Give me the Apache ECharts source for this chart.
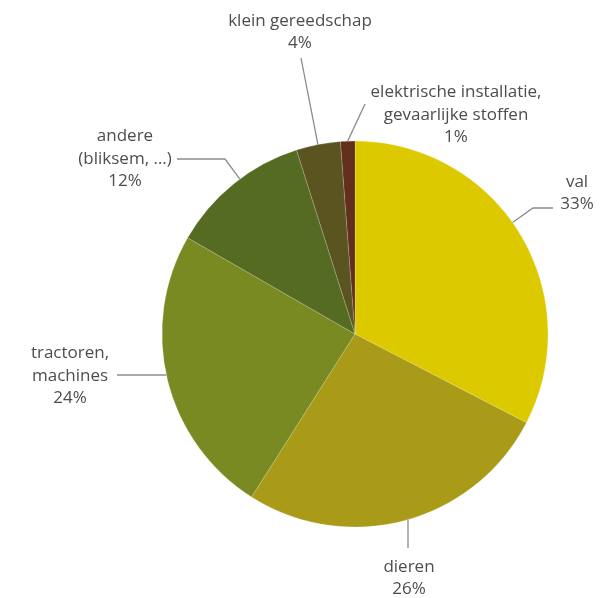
<!DOCTYPE html>
<html>
<head>
<meta charset="utf-8">
<script src="https://cdn.jsdelivr.net/npm/echarts@6/dist/echarts.min.js"></script>
<style>
html,body{margin:0;padding:0;background:#fff;}
#chart{width:601px;height:598px;}
</style>
</head>
<body>
<div id="chart"></div>
<script>
// ---- data ----
const categories = ['val', 'dieren', 'tractoren, machines', 'andere (bliksem, …)', 'klein gereedschap', 'elektrische installatie, gevaarlijke stoffen'];
const labelNames = ['val', 'dieren', 'tractoren,\nmachines', 'andere\n(bliksem, …)', 'klein gereedschap', 'elektrische installatie,\ngevaarlijke stoffen'];
const values = [32.6, 26.4, 24.3, 11.8, 3.7, 1.2];
const colors = ['#DCC900', '#A99A18', '#798A22', '#566B22', '#5A5520', '#62301A'];

// ---- layout (label placement & leader styling, not data) ----
const CENTER = [355, 334];
const RADIUS = 193;
const labelPos = [[577, 193], [409, 578], [70, 376], [125, 159], [300, 32], [456, 115]];
// leader end offset from label anchor, elbow horizontal length (signed), how to reach the pie
const leaderEnd = [[-24, 15], [-1, -30], [47, -1], [52, 0], [1, 26], [-91, -11]];
const leaderElbow = [-20, 0, 0, 48, 0, 0];
const leaderMode = ['radial', 'vertical', 'horizontal', 'radial', 'radial', 'radial'];

const total = values.reduce((a, b) => a + b, 0);
// slice angle ranges, degrees clockwise from 12 o'clock
const sliceRange = [];
(function () {
  let acc = 0;
  values.forEach(v => { const a0 = acc / total * 360; acc += v; sliceRange.push([a0, acc / total * 360]); });
})();

function piePoint(i, px, py) {
  const dx = px - CENTER[0], dy = py - CENTER[1];
  const mode = leaderMode[i];
  if (mode === 'vertical') {
    const h = Math.sqrt(RADIUS * RADIUS - dx * dx);
    return [px, CENTER[1] + (dy > 0 ? h : -h)];
  }
  if (mode === 'horizontal') {
    const w = Math.sqrt(RADIUS * RADIUS - dy * dy);
    return [CENTER[0] + (dx > 0 ? w : -w), py];
  }
  let ang = Math.atan2(dx, -dy) * 180 / Math.PI;
  if (ang < 0) ang += 360;
  const r = sliceRange[i];
  if (ang < r[0] || ang > r[1]) ang = (r[0] + r[1]) / 2;
  const rad = ang * Math.PI / 180;
  return [CENTER[0] + RADIUS * Math.sin(rad), CENTER[1] - RADIUS * Math.cos(rad)];
}

const chart = echarts.init(document.getElementById('chart'), null, {renderer: 'canvas'});

chart.setOption({
  animation: false,
  series: [{
    type: 'pie',
    center: CENTER,
    radius: [0, RADIUS],
    startAngle: 90,
    clockwise: true,
    avoidLabelOverlap: false,
    itemStyle: {borderColor: 'rgba(255,255,255,0.35)', borderWidth: 0.5},
    label: {
      show: true,
      position: 'outside',
      fontFamily: 'Open Sans',
      fontSize: 17,
      lineHeight: 22.5,
      color: '#4d4d4d',
      formatter: function (p) {
        return labelNames[p.dataIndex] + '\n' + Math.round(p.value / total * 100) + '%';
      }
    },
    labelLine: {show: true, length: 10, length2: 10, minTurnAngle: 0, maxSurfaceAngle: 180,
      lineStyle: {color: '#8c8c8c', width: 1.3}},
    labelLayout: function (params) {
      const i = params.dataIndex;
      const lx = labelPos[i][0], ly = labelPos[i][1];
      const end = [lx + leaderEnd[i][0], ly + leaderEnd[i][1]];
      const elbow = [end[0] + leaderElbow[i], end[1]];
      const start = piePoint(i, elbow[0], elbow[1]);
      return {
        x: lx, y: ly, align: 'center', verticalAlign: 'middle',
        labelLinePoints: [start, elbow, end]
      };
    },
    data: categories.map((c, i) => ({
      name: c,
      value: values[i],
      itemStyle: {color: colors[i]}
    }))
  }]
});
</script>
</body>
</html>
